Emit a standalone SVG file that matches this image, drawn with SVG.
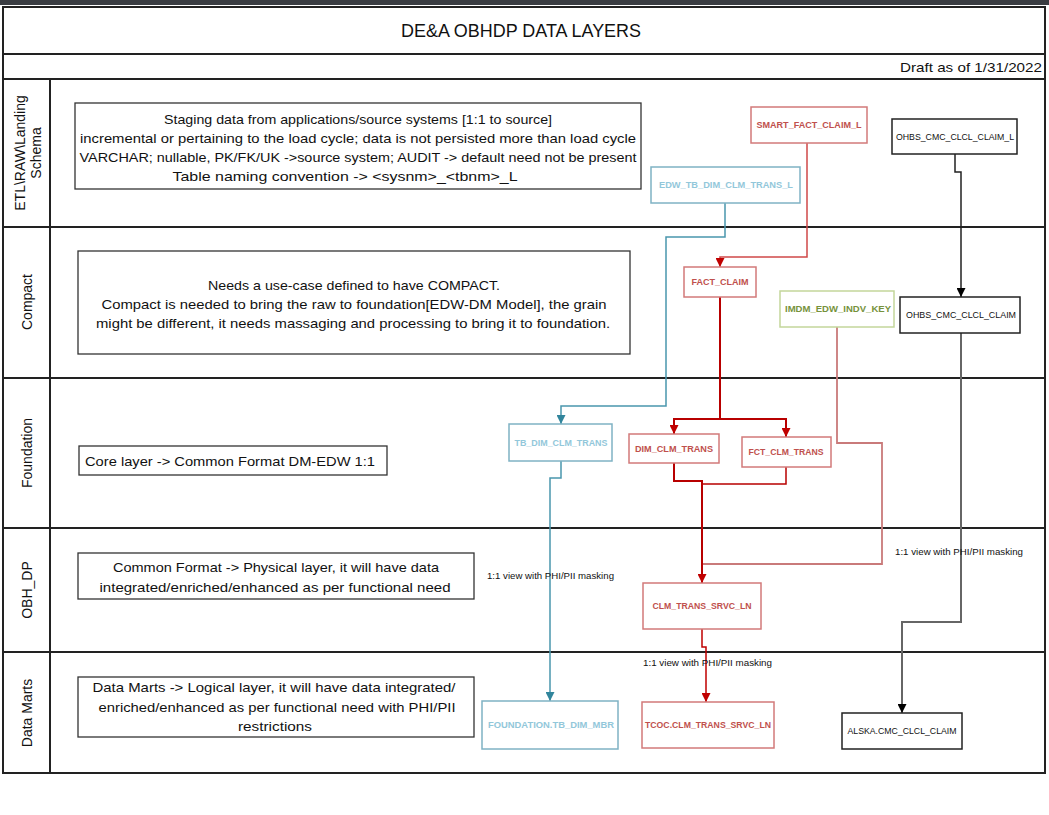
<svg xmlns="http://www.w3.org/2000/svg" width="1049" height="815" viewBox="0 0 1049 815">
<style>
  text { font-family: "Liberation Sans", Arial, sans-serif; fill: #111; }
  .frame { fill: none; stroke: #222; stroke-width: 2; }
  .desc { fill: #fff; stroke: #333; stroke-width: 1.3; }
  .dt { font-size: 13.5px; text-anchor: middle; }
  .lane { font-size: 14px; text-anchor: middle; }
  .nt { font-size: 9.5px; text-anchor: middle; }
  .nb { font-size: 9.5px; text-anchor: middle; font-weight: bold; }
  .red { fill: #fff; stroke: #d27a7a; stroke-width: 1.5; }
  .blue { fill: #fff; stroke: #7fb2c4; stroke-width: 1.5; }
  .green { fill: #fff; stroke: #c3d69b; stroke-width: 1.5; }
  .black { fill: #fff; stroke: #222; stroke-width: 1.5; }
  .rt { fill: #c0504d; }
  .bt { fill: #92c7da; }
  .gt { fill: #76923c; }
  .note { font-size: 9.5px; }
  .c { fill: none; }
</style>
<defs>
  <marker id="aBlue" markerUnits="userSpaceOnUse" markerWidth="9" markerHeight="9" refX="9" refY="4.5" orient="auto"><path d="M0,0 L9,4.5 L0,9 z" fill="#31859c"/></marker>
  <marker id="aRed" markerUnits="userSpaceOnUse" markerWidth="9" markerHeight="9" refX="9" refY="4.5" orient="auto"><path d="M0,0 L9,4.5 L0,9 z" fill="#c00000"/></marker>
  <marker id="aBlack" markerUnits="userSpaceOnUse" markerWidth="9" markerHeight="9" refX="9" refY="4.5" orient="auto"><path d="M0,0 L9,4.5 L0,9 z" fill="#000"/></marker>
</defs>
<rect x="0" y="0" width="1049" height="815" fill="#fff"/>
<rect x="0" y="0" width="1049" height="5" fill="#3a3d42"/>

<g id="frame">
  <rect class="frame" x="3" y="7" width="1042" height="766"/>
  <line class="frame" x1="3" y1="54" x2="1045" y2="54"/>
  <line class="frame" x1="3" y1="79" x2="1045" y2="79"/>
  <line class="frame" x1="3" y1="227" x2="1045" y2="227"/>
  <line class="frame" x1="3" y1="378" x2="1045" y2="378"/>
  <line class="frame" x1="3" y1="528" x2="1045" y2="528"/>
  <line class="frame" x1="3" y1="652" x2="1045" y2="652"/>
  <line class="frame" x1="50" y1="79" x2="50" y2="773" stroke-width="1.5"/>
  <text x="521" y="37" font-size="17.5" text-anchor="middle" textLength="240" lengthAdjust="spacingAndGlyphs">DE&amp;A OBHDP DATA LAYERS</text>
  <text x="1042" y="72" font-size="13.5" text-anchor="end" textLength="142" lengthAdjust="spacingAndGlyphs">Draft as of 1/31/2022</text>
</g>

<g id="lane-labels">
  <text class="lane" transform="translate(24.5,153) rotate(-90)">ETL\RAW\Landing</text>
  <text class="lane" transform="translate(40.5,153) rotate(-90)">Schema</text>
  <text class="lane" transform="translate(32,302) rotate(-90)">Compact</text>
  <text class="lane" transform="translate(32,453) rotate(-90)">Foundation</text>
  <text class="lane" transform="translate(32,590) rotate(-90)">OBH_DP</text>
  <text class="lane" transform="translate(32,713) rotate(-90)">Data Marts</text>
</g>

<g id="desc-etl">
  <rect class="desc" x="75" y="103" width="566" height="86"/>
  <text class="dt" x="358" y="124" textLength="388" lengthAdjust="spacingAndGlyphs">Staging data from applications/source systems [1:1 to source]</text>
  <text class="dt" x="358" y="143" textLength="556" lengthAdjust="spacingAndGlyphs">incremental or pertaining to the load cycle; data is not persisted more than load cycle</text>
  <text class="dt" x="358" y="162" textLength="557" lengthAdjust="spacingAndGlyphs">VARCHAR; nullable, PK/FK/UK -&gt;source system; AUDIT -&gt; default need not be present</text>
  <text class="dt" x="345" y="181" textLength="345" lengthAdjust="spacingAndGlyphs">Table naming convention -&gt; &lt;sysnm&gt;_&lt;tbnm&gt;_L</text>
</g>

<g id="desc-compact">
  <rect class="desc" x="78" y="251" width="552" height="103"/>
  <text class="dt" x="354" y="290" textLength="292" lengthAdjust="spacingAndGlyphs">Needs a use-case defined to have COMPACT.</text>
  <text class="dt" x="354" y="309" textLength="505" lengthAdjust="spacingAndGlyphs">Compact is needed to bring the raw to foundation[EDW-DM Model], the grain</text>
  <text class="dt" x="353" y="328" textLength="514" lengthAdjust="spacingAndGlyphs">might be different, it needs massaging and processing to bring it to foundation.</text>
</g>

<g id="desc-foundation">
  <rect class="desc" x="79" y="446" width="308" height="29"/>
  <text class="dt" x="230" y="466" textLength="290" lengthAdjust="spacingAndGlyphs">Core layer -&gt; Common Format DM-EDW 1:1</text>
</g>

<g id="desc-obh">
  <rect class="desc" x="78" y="553" width="396" height="46"/>
  <text class="dt" x="276" y="572" textLength="326" lengthAdjust="spacingAndGlyphs">Common Format -&gt; Physical layer, it will have data</text>
  <text class="dt" x="275" y="592" textLength="351" lengthAdjust="spacingAndGlyphs">integrated/enriched/enhanced as per functional need</text>
</g>

<g id="desc-marts">
  <rect class="desc" x="78" y="677" width="396" height="60"/>
  <text class="dt" x="274" y="692" textLength="363" lengthAdjust="spacingAndGlyphs">Data Marts -&gt; Logical layer, it will have data integrated/</text>
  <text class="dt" x="277" y="712" textLength="357" lengthAdjust="spacingAndGlyphs">enriched/enhanced as per functional need with PHI/PII</text>
  <text class="dt" x="275" y="731" textLength="74" lengthAdjust="spacingAndGlyphs">restrictions</text>
</g>

<g id="connectors" class="c">
  <path d="M725 203 V237 H666 V406 H561 V424" stroke="#4a96ad" stroke-width="1.5" fill="none" marker-end="url(#aBlue)"/>
  <path d="M561 461 V478 H550 V701" stroke="#4a96ad" stroke-width="1.5" fill="none" marker-end="url(#aBlue)"/>
  <path d="M807 143 V257 H720 V267" stroke="#d04848" stroke-width="1.5" fill="none" marker-end="url(#aRed)"/>
  <path d="M720 297 V419 H674 V434" stroke="#b80000" stroke-width="2" fill="none" marker-end="url(#aRed)"/>
  <path d="M720 419 H786 V437" stroke="#b80000" stroke-width="2" fill="none" marker-end="url(#aRed)"/>
  <path d="M837 327 V443 H882 V564 H702" stroke="#c97a7a" stroke-width="1.8" fill="none"/>
  <path d="M674 463 V481 H702 V583" stroke="#b80000" stroke-width="2" fill="none" marker-end="url(#aRed)"/>
  <path d="M786 467 V484 H702" stroke="#b80000" stroke-width="1.5" fill="none"/>
  <path d="M702 629 V647 H706 V702" stroke="#c00000" stroke-width="1.5" fill="none" marker-end="url(#aRed)"/>
  <path d="M955 154 V172 H961 V297" stroke="#222" stroke-width="1.5" fill="none" marker-end="url(#aBlack)"/>
  <path d="M961 333 V622 H902 V713" stroke="#666" stroke-width="2" fill="none" marker-end="url(#aBlack)"/>
  <text class="note" x="487" y="579" textLength="127" lengthAdjust="spacingAndGlyphs">1:1 view with PHI/PII masking</text>
  <text class="note" x="895" y="555" textLength="128" lengthAdjust="spacingAndGlyphs">1:1 view with PHI/PII masking</text>
  <text class="note" x="643" y="666" textLength="129" lengthAdjust="spacingAndGlyphs">1:1 view with PHI/PII masking</text>
</g>

<g id="n-smart-fact-claim-l">
  <rect class="red" x="751" y="107" width="116" height="36"/>
  <text class="nb rt" x="809" y="128" textLength="105" lengthAdjust="spacingAndGlyphs">SMART_FACT_CLAIM_L</text>
</g>
<g id="n-ohbs-cmc-clcl-claim-l">
  <rect class="black" x="892" y="119" width="125" height="35"/>
  <text class="nt" x="955" y="140" textLength="118" lengthAdjust="spacingAndGlyphs">OHBS_CMC_CLCL_CLAIM_L</text>
</g>
<g id="n-edw-tb-dim-clm-trans-l">
  <rect class="blue" x="651" y="167" width="149" height="36"/>
  <text class="nb bt" x="726" y="188" textLength="134" lengthAdjust="spacingAndGlyphs">EDW_TB_DIM_CLM_TRANS_L</text>
</g>
<g id="n-fact-claim">
  <rect class="red" x="684" y="267" width="72" height="30"/>
  <text class="nb rt" x="720" y="285" textLength="57" lengthAdjust="spacingAndGlyphs">FACT_CLAIM</text>
</g>
<g id="n-imdm-edw-indv-key">
  <rect class="green" x="780" y="291" width="114" height="36"/>
  <text class="nb gt" x="838" y="312" textLength="106" lengthAdjust="spacingAndGlyphs">IMDM_EDW_INDV_KEY</text>
</g>
<g id="n-ohbs-cmc-clcl-claim">
  <rect class="black" x="900" y="297" width="120" height="36"/>
  <text class="nt" x="961" y="318" textLength="110" lengthAdjust="spacingAndGlyphs">OHBS_CMC_CLCL_CLAIM</text>
</g>
<g id="n-tb-dim-clm-trans">
  <rect class="blue" x="509" y="424" width="103" height="37"/>
  <text class="nb bt" x="561" y="446" textLength="93" lengthAdjust="spacingAndGlyphs">TB_DIM_CLM_TRANS</text>
</g>
<g id="n-dim-clm-trans">
  <rect class="red" x="629" y="434" width="90" height="29"/>
  <text class="nb rt" x="674" y="452" textLength="78" lengthAdjust="spacingAndGlyphs">DIM_CLM_TRANS</text>
</g>
<g id="n-fct-clm-trans">
  <rect class="red" x="742" y="437" width="89" height="30"/>
  <text class="nb rt" x="786" y="455" textLength="75" lengthAdjust="spacingAndGlyphs">FCT_CLM_TRANS</text>
</g>
<g id="n-clm-trans-srvc-ln">
  <rect class="red" x="643" y="583" width="118" height="46"/>
  <text class="nb rt" x="702" y="609" textLength="99" lengthAdjust="spacingAndGlyphs">CLM_TRANS_SRVC_LN</text>
</g>
<g id="n-foundation-tb-dim-mbr">
  <rect class="blue" x="482" y="701" width="136" height="48"/>
  <text class="nb bt" x="551" y="728" textLength="126" lengthAdjust="spacingAndGlyphs">FOUNDATION.TB_DIM_MBR</text>
</g>
<g id="n-tcoc-clm-trans-srvc-ln">
  <rect class="red" x="642" y="702" width="132" height="46"/>
  <text class="nb rt" x="708" y="728" textLength="126" lengthAdjust="spacingAndGlyphs">TCOC.CLM_TRANS_SRVC_LN</text>
</g>
<g id="n-alska-cmc-clcl-claim">
  <rect class="black" x="842" y="713" width="120" height="36"/>
  <text class="nt" x="902" y="734" textLength="109" lengthAdjust="spacingAndGlyphs">ALSKA.CMC_CLCL_CLAIM</text>
</g>
</svg>
